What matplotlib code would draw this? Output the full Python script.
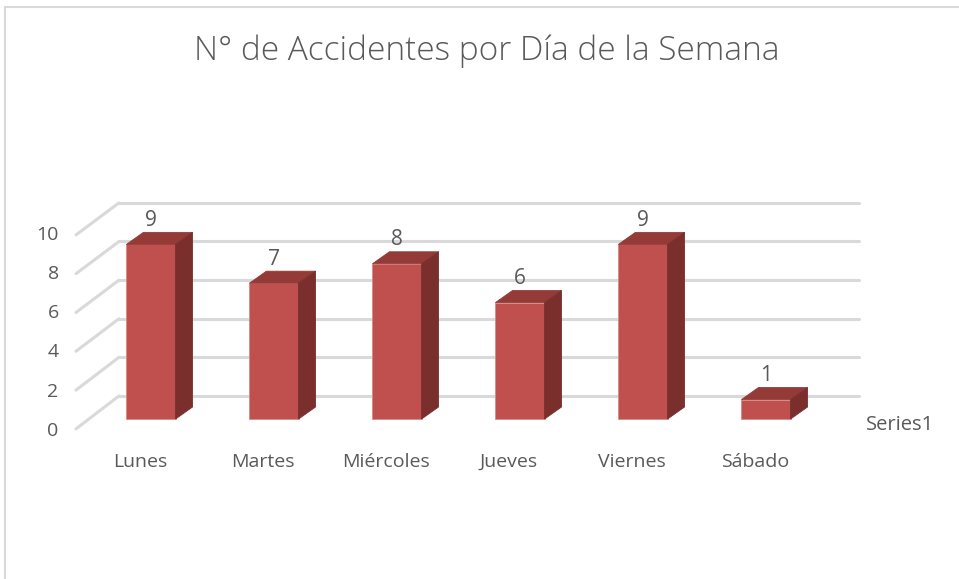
import matplotlib.pyplot as plt
import matplotlib.patches as patches

# data
dias = ["Lunes", "Martes", "Miércoles", "Jueves", "Viernes", "Sábado"]
accidentes = [9, 7, 8, 6, 9, 1]
y_ticks = [0, 2, 4, 6, 8, 10]
titulo = "N° de Accidentes por Día de la Semana"
serie = "Series1"

# colours (Excel 3D column style)
c_front = "#C0504D"
c_top = "#943B38"
c_side = "#7A2F2D"
c_grid = "#D9D9D9"
c_text = "#595959"

# pseudo-3D geometry in data units
half_w = 0.2       # half bar width (category units)
dx, dy = 0.138, 0.62   # depth offset of bar
wall_dy = 1.19     # back wall raised above bar base
wall_x0, wall_x1 = -0.26, 5.756
front_dx, front_dy = -0.35, -1.70  # back wall -> front edge of floor

plt.rcParams['font.family'] = ['Open Sans', 'DejaVu Sans']

fig = plt.figure(figsize=(9.59, 5.79), dpi=100)
ax = fig.add_axes([0, 0, 1, 1])
ax.set_xlim(-1.2276, 6.569)
ax.set_ylim(-8.247, 21.598)
ax.axis("off")

# outer chart border
fig.add_artist(patches.Rectangle((5 / 959, -0.02), 1.1, 1 - 7 / 579 + 0.02,
                                 transform=fig.transFigure, fill=False,
                                 edgecolor="#D9D9D9", lw=1.5))

# gridlines: back wall + diagonal on side wall
for t in y_ticks:
    yb = t * 0.995 + wall_dy
    ax.plot([wall_x0, wall_x1], [yb, yb], color=c_grid, lw=2.2, solid_capstyle="round", zorder=1)
    ax.plot([wall_x0 + front_dx, wall_x0], [t + front_dy + wall_dy, yb],
            color=c_grid, lw=2.2, solid_capstyle="round", zorder=1)
    ax.text(wall_x0 + front_dx - 0.14, t + front_dy + wall_dy - 0.1 + t * 0.01, str(t),
            ha="right", va="center", fontsize=14, color=c_text)

# bars
for i, v in enumerate(accidentes):
    x0, x1 = i - half_w, i + half_w
    front = patches.Polygon([(x0, 0), (x1, 0), (x1, v), (x0, v)], closed=True,
                            facecolor=c_front, edgecolor="#D98A88", lw=0.6, zorder=3)
    top = patches.Polygon([(x0, v), (x1, v), (x1 + dx, v + dy), (x0 + dx, v + dy)], closed=True,
                          facecolor=c_top, edgecolor=c_top, lw=0.6, zorder=3)
    side = patches.Polygon([(x1, 0), (x1 + dx, dy), (x1 + dx, v + dy), (x1, v)], closed=True,
                           facecolor=c_side, edgecolor=c_side, lw=0.6, zorder=3)
    for p in (front, top, side):
        ax.add_patch(p)
    ax.text(i, v + dy + 0.62, str(v), ha="center", va="center", fontsize=15, color=c_text)
    ax.text(i - 0.09, -2.2, dias[i], ha="center", va="center", fontsize=14, color=c_text)

ax.text(wall_x1 + 0.06, -0.3, serie, ha="left", va="center", fontsize=14.5, color=c_text)

fig.text(487 / 959, 1 - 51 / 579, titulo, ha="center", va="center", fontsize=24,
         fontweight="light", color=c_text)

fig.savefig("out.png", dpi=100)
